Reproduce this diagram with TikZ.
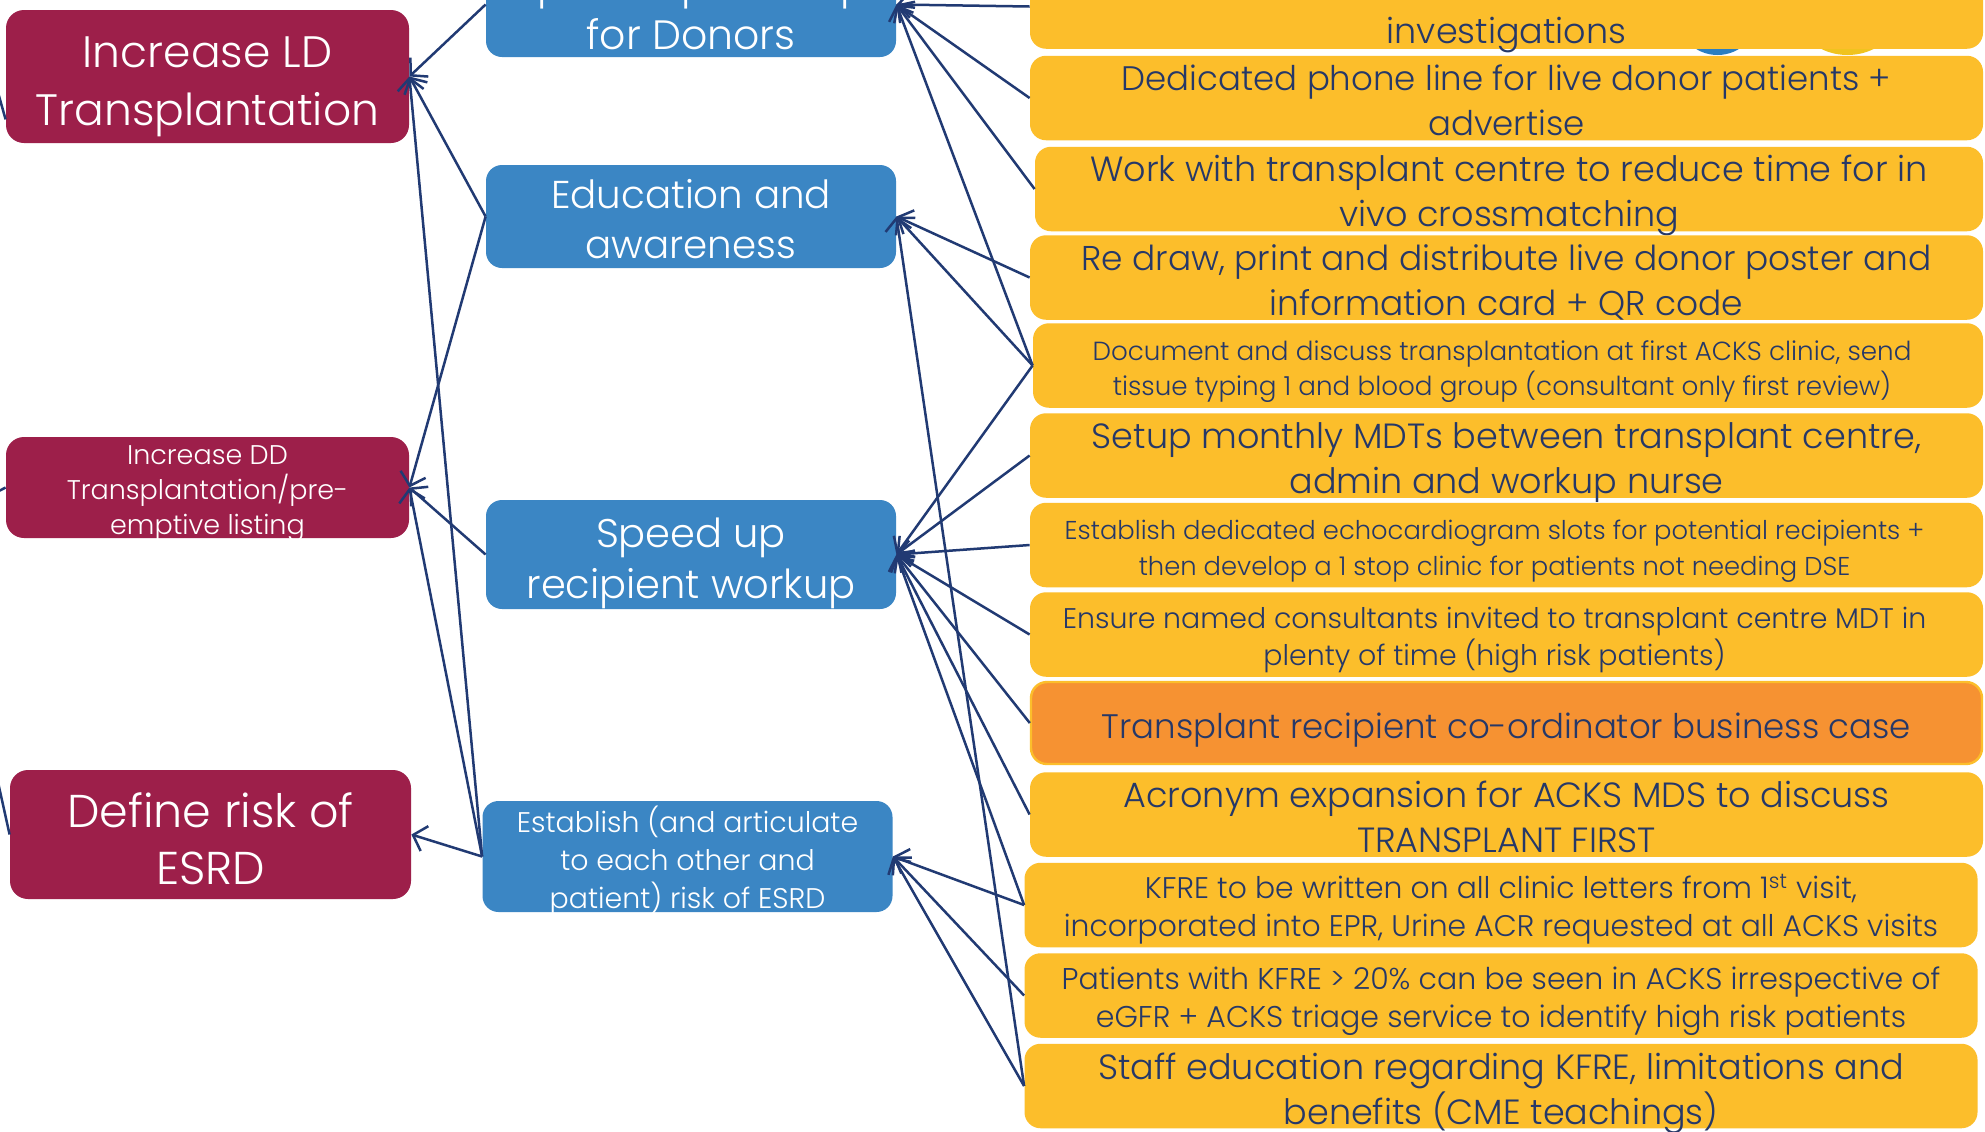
\documentclass[tikz,border=0pt]{standalone}
\usepackage{fontspec}
\setmainfont{Poppins Light}
\usetikzlibrary{arrows.meta}
\definecolor{redbox}{RGB}{157,31,74}
\definecolor{bluebox}{RGB}{59,134,196}
\definecolor{yellowbox}{RGB}{252,190,43}
\definecolor{orangebox}{RGB}{246,146,50}
\definecolor{navytext}{RGB}{38,56,104}
\definecolor{arrowcol}{RGB}{33,58,115}
\definecolor{blobblue}{RGB}{43,126,193}
\definecolor{blobyellow}{RGB}{240,195,30}
\newcommand\myfs[2]{\fontsize{#1}{#2}\selectfont}
\tikzset{
  redb/.style={fill=redbox, rounded corners=9pt, inner sep=0pt, minimum width=201.5pt},
  blueb/.style={fill=bluebox, rounded corners=8pt, inner sep=0pt, minimum width=205pt},
  yelb/.style={fill=yellowbox, rounded corners=8pt, inner sep=0pt, minimum width=476.5pt, minimum height=42.25pt},
  orab/.style={fill=orangebox, draw=yellowbox, line width=1.2pt, rounded corners=8pt, inner sep=0pt, minimum width=475.5pt, minimum height=41pt},
  wtxt/.style={text=white, align=center, inner sep=0pt},
  ntxt/.style={text=navytext, align=center, inner sep=0pt},
  conn/.style={draw=arrowcol, line width=1.25pt, -{Straight Barb[length=6pt,width=13pt,line width=1.25pt]}},
  plainconn/.style={draw=arrowcol, line width=1.25pt},
}
\begin{document}
\begin{tikzpicture}[x=0.5pt,y=-0.5pt]
\useasboundingbox (0,0) rectangle (1985,1131);
\clip (0,0) rectangle (1985,1131);
\fill[white] (0,0) rectangle (1985,1131);

% partial shapes behind the top boxes
\fill[blobblue] (1717.5,15) ellipse [x radius=20.25pt, y radius=20pt];
\fill[blobyellow] (1847.5,15) ellipse [x radius=24.75pt, y radius=20pt];

% red boxes
\node[redb, minimum height=66.5pt] (R1) at (207.5,76.5) {};
\node[wtxt, font=\myfs{22pt}{29pt}] (R1t) at ([yshift=-5pt]R1.center) {Increase LD\\Transplantation};
\node[redb, minimum height=50.5pt] (R2) at (207.5,487.5) {};
\node[wtxt, font=\myfs{13.5pt}{17.5pt}] (R2t) at ([yshift=-3pt]R2.center) {Increase DD\\Transplantation/pre-\\emptive listing};
\node[redb, minimum width=200.5pt, minimum height=64.5pt] (R3) at (210.5,834.5) {};
\node[wtxt, font=\myfs{23pt}{28.5pt}] (R3t) at ([yshift=-2pt]R3.center) {Define risk of\\ESRD};

% blue boxes
\node[blueb, minimum height=52.5pt] (B1) at (691,4.5) {};
\node[wtxt, font=\myfs{20.5pt}{25.5pt}] (B1t) at ([yshift=-2pt]B1.center) {Speed up workup\\for Donors};
\node[blueb, minimum height=51.5pt] (B2) at (691,216.5) {};
\node[wtxt, font=\myfs{19.4pt}{25.3pt}] (B2t) at ([yshift=-1.3pt]B2.center) {Education and\\awareness};
\node[blueb, minimum height=54.5pt] (B3) at (691,554.5) {};
\node[wtxt, font=\myfs{20pt}{25.3pt}] (B3t) at ([yshift=-4.5pt]B3.center) {Speed up\\recipient workup};
\node[blueb, minimum height=55.5pt] (B4) at (687.5,856.5) {};
\node[wtxt, font=\myfs{14.2pt}{19pt}] (B4t) at ([yshift=-2pt]B4.center) {Establish (and articulate\\to each other and\\patient) risk of ESRD};

% yellow boxes
\node[yelb] (Y0) at (1506.5,6.5) {};
\node[ntxt, font=\myfs{17.5pt}{22.5pt}, anchor=base] (Y0t) at ([yshift=-18.5pt]Y0.center) {investigations};
\node[yelb] (Y1) at (1506.5,98) {};
\node[ntxt, font=\myfs{17pt}{22.5pt}] (Y1t) at ([yshift=-1.3pt]Y1.center) {Dedicated phone line for live donor patients +\\advertise};
\node[yelb, minimum width=474pt] (Y2) at (1509,189) {};
\node[ntxt, font=\myfs{17.5pt}{22.5pt}] (Y2t) at ([yshift=-3pt]Y2.center) {Work with transplant centre to reduce time for in\\vivo crossmatching};
\node[yelb] (Y3) at (1506.5,277.5) {};
\node[ntxt, font=\myfs{17.2pt}{22.5pt}] (Y3t) at ([yshift=-2.5pt]Y3.center) {Re draw, print and distribute live donor poster and\\information card + QR code};
\node[yelb, minimum width=475pt] (Y4) at (1508,365.5) {};
\node[ntxt, font=\myfs{13.1pt}{17.7pt}] (Y4t) at ([yshift=-3pt,xshift=-3pt]Y4.center) {Document and discuss transplantation at first ACKS clinic, send\\tissue typing 1 and blood group (consultant only first review)};
\node[yelb] (Y5) at (1506.5,455.5) {};
\node[ntxt, font=\myfs{17.5pt}{22.5pt}] (Y5t) at ([yshift=-3.7pt]Y5.center) {Setup monthly MDTs between transplant centre,\\admin and workup nurse};
\node[yelb] (Y6) at (1506.5,545) {};
\node[ntxt, font=\myfs{12.9pt}{17.7pt}] (Y6t) at ([yshift=-3pt,xshift=-6pt]Y6.center) {Establish dedicated echocardiogram slots for potential recipients +\\then develop a 1 stop clinic for patients not needing DSE};
\node[yelb] (Y7) at (1506.5,634.5) {};
\node[ntxt, font=\myfs{14.2pt}{18.5pt}] (Y7t) at ([yshift=-3pt,xshift=-6pt]Y7.center) {Ensure named consultants invited to transplant centre MDT in\\plenty of time (high risk patients)};
\node[orab] (Y8) at (1506.5,723) {};
\node[ntxt, font=\myfs{17pt}{22.5pt}] (Y8t) at ([yshift=-3.7pt]Y8.center) {Transplant recipient co-ordinator business case};
\node[yelb] (Y9) at (1506.5,814.5) {};
\node[ntxt, font=\myfs{17.5pt}{22.5pt}] (Y9t) at ([yshift=-1.3pt]Y9.center) {Acronym expansion for ACKS MDS to discuss\\TRANSPLANT FIRST};
\node[yelb] (Y10) at (1501,905) {};
\node[ntxt, font=\myfs{14.9pt}{19pt}] (Y10t) at ([yshift=-2.2pt]Y10.center) {KFRE to be written on all clinic letters from 1\textsuperscript{st} visit,\\incorporated into EPR, Urine ACR requested at all ACKS visits};
\node[yelb] (Y11) at (1501,995.5) {};
\node[ntxt, font=\myfs{15pt}{19pt}] (Y11t) at ([yshift=-3pt]Y11.center) {Patients with KFRE > 20\% can be seen in ACKS irrespective of\\eGFR + ACKS triage service to identify high risk patients};
\node[yelb] (Y12) at (1501,1086) {};
\node[ntxt, font=\myfs{17.5pt}{22.5pt}] (Y12t) at ([yshift=-3.7pt]Y12.center) {Staff education regarding KFRE, limitations and\\benefits (CME teachings)};

% connectors: yellow -> blue
\draw[conn] (Y0.west) -- (B1.east);
\draw[conn] (Y1.west) -- (B1.east);
\draw[conn] (Y2.west) -- (B1.east);
\draw[conn] (Y4.west) -- (B1.east);
\draw[conn] (Y3.west) -- (B2.east);
\draw[conn] (Y4.west) -- (B2.east);
\draw[conn] (Y12.west) -- (B2.east);
\draw[conn] (Y4.west) -- (B3.east);
\draw[conn] (Y5.west) -- (B3.east);
\draw[conn] (Y6.west) -- (B3.east);
\draw[conn] (Y7.west) -- (B3.east);
\draw[conn] (Y8.west) -- (B3.east);
\draw[conn] (Y9.west) -- (B3.east);
\draw[conn] (Y10.west) -- (B3.east);
\draw[conn] (Y10.west) -- (B4.east);
\draw[conn] (Y11.west) -- (B4.east);
\draw[conn] (Y12.west) -- (B4.east);

% connectors: blue -> red
\draw[conn] (B1.west) -- (R1.east);
\draw[conn] (B2.west) -- (R1.east);
\draw[conn] (B2.west) -- (R2.east);
\draw[conn] (B3.west) -- (R2.east);
\draw[conn] (B4.west) -- (R1.east);
\draw[conn] (B4.west) -- (R2.east);
\draw[conn] (B4.west) -- (R3.east);

% connectors leaving the red boxes to the left (beyond the frame)
\coordinate (o1) at (-10,64);
\coordinate (o2) at (-20,501);
\coordinate (o3) at (-10,746);
\draw[plainconn] (R1.192) -- (o1);
\draw[plainconn] (R2.west) -- (o2);
\draw[plainconn] (R3.west) -- (o3);
\end{tikzpicture}
\end{document}
